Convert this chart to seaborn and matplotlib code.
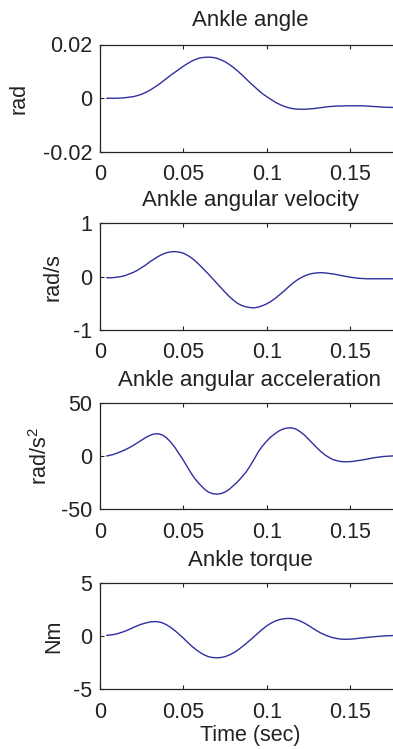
import matplotlib
matplotlib.use("Agg")
import matplotlib.pyplot as plt
import numpy as np
import pandas as pd
import seaborn as sns

# Sample times (s)
time = [0.004, 0.0075, 0.010, 0.0125, 0.015, 0.0175, 0.020, 0.0225, 0.025, 0.0275,
        0.030, 0.0325, 0.035, 0.0375, 0.040, 0.0425, 0.045, 0.0475, 0.050, 0.0525,
        0.055, 0.0575, 0.060, 0.0625, 0.065, 0.0675, 0.070, 0.0725, 0.075, 0.0775,
        0.080, 0.0825, 0.085, 0.0875, 0.090, 0.0925, 0.095, 0.0975, 0.100, 0.1025,
        0.105, 0.1075, 0.110, 0.1125, 0.115, 0.1175, 0.120, 0.1225, 0.125, 0.1275,
        0.130, 0.1325, 0.135, 0.1375, 0.140, 0.1425, 0.145, 0.1475, 0.150, 0.1525,
        0.155, 0.1575, 0.160, 0.1625, 0.165, 0.1675, 0.170, 0.1725, 0.175, 0.1775,
        0.180]

# Ankle angle (rad)
angle = [0.0000, 0.0000, 0.0000, 0.0001, 0.0002, 0.0004, 0.0006, 0.0010, 0.0015, 0.0022,
         0.0030, 0.0040, 0.0050, 0.0062, 0.0074, 0.0086, 0.0097, 0.0108, 0.0119, 0.0129,
         0.0138, 0.0145, 0.0150, 0.0152, 0.0153, 0.0152, 0.0149, 0.0143, 0.0136, 0.0126,
         0.0115, 0.0102, 0.0088, 0.0073, 0.0058, 0.0044, 0.0030, 0.0017, 0.0006, -0.0004,
         -0.0014, -0.0022, -0.0029, -0.0034, -0.0038, -0.0040, -0.0041, -0.0041, -0.0040, -0.0039,
         -0.0037, -0.0035, -0.0033, -0.0031, -0.0030, -0.0029, -0.0029, -0.0028, -0.0028, -0.0028,
         -0.0028, -0.0028, -0.0029, -0.0030, -0.0031, -0.0032, -0.0033, -0.0034, -0.0034, -0.0035,
         -0.0035]

# Ankle angular velocity (rad/s)
velocity = [-0.02, -0.02, -0.01, 0.00, 0.02, 0.05, 0.08, 0.12, 0.17, 0.22,
            0.28, 0.33, 0.38, 0.42, 0.45, 0.465, 0.47, 0.46, 0.44, 0.40,
            0.35, 0.285, 0.21, 0.13, 0.05, -0.035, -0.12, -0.205, -0.29, -0.37,
            -0.44, -0.50, -0.54, -0.565, -0.58, -0.585, -0.57, -0.545, -0.51, -0.465,
            -0.41, -0.345, -0.28, -0.21, -0.14, -0.08, -0.03, 0.01, 0.04, 0.06,
            0.07, 0.075, 0.07, 0.06, 0.05, 0.035, 0.02, 0.005, -0.01, -0.02,
            -0.03, -0.035, -0.04, -0.04, -0.04, -0.04, -0.04, -0.04, -0.04, -0.04,
            -0.04]

# Ankle angular acceleration (rad/s^2)
acceleration = [0.0, 1.2, 2.6, 4.1, 5.8, 7.8, 10.0, 12.5, 15.0, 17.5,
                19.5, 20.8, 21.0, 19.8, 17.0, 13.0, 8.0, 2.0, -4.0, -10.5,
                -17.0, -22.5, -27.0, -31.0, -34.0, -35.5, -36.0, -35.5, -34.0, -31.5,
                -28.0, -24.5, -20.0, -15.5, -9.5, -3.0, 4.0, 9.5, 14.0, 18.0,
                21.0, 23.8, 25.5, 26.5, 26.5, 25.5, 23.0, 20.0, 16.0, 12.0,
                8.0, 4.2, 1.0, -1.5, -3.5, -4.6, -5.3, -5.5, -5.3, -4.9,
                -4.3, -3.7, -3.0, -2.2, -1.5, -1.0, -0.5, -0.2, 0.0, 0.2,
                0.3]

# Ankle torque (Nm)
torque = [0.06, 0.12, 0.20, 0.32, 0.45, 0.62, 0.80, 0.97, 1.12, 1.23,
          1.32, 1.36, 1.34, 1.24, 1.05, 0.80, 0.50, 0.16, -0.20, -0.58,
          -0.95, -1.27, -1.55, -1.78, -1.95, -2.03, -2.06, -2.03, -1.95, -1.80,
          -1.60, -1.35, -1.05, -0.73, -0.40, -0.05, 0.30, 0.64, 0.95, 1.20,
          1.40, 1.54, 1.62, 1.66, 1.65, 1.56, 1.42, 1.23, 1.00, 0.75,
          0.50, 0.28, 0.10, -0.05, -0.17, -0.25, -0.30, -0.31, -0.30, -0.27,
          -0.22, -0.18, -0.14, -0.10, -0.06, -0.03, 0.00, 0.02, 0.04, 0.05,
          0.06]

titles = ["Ankle angle", "Ankle angular velocity",
          "Ankle angular acceleration", "Ankle torque"]
ylabels = ["rad", "rad/s", "rad/s$^{2}$", "Nm"]
ylimits = [(-0.02, 0.02), (-1, 1), (-50, 50), (-5, 5)]
yticklabels = [["-0.02", "0", "0.02"], ["-1", "0", "1"],
               ["-50", "0", "50"], ["-5", "0", "5"]]
xticks = [0, 0.05, 0.1, 0.15]
xticklabels = ["0", "0.05", "0.1", "0.15"]

sns.set_style("ticks")
plt.rcParams["font.family"] = ["Liberation Sans", "DejaVu Sans"]
plt.rcParams["mathtext.fontset"] = "custom"
plt.rcParams["mathtext.rm"] = "Liberation Sans"
plt.rcParams["mathtext.default"] = "regular"
plt.rcParams["axes.unicode_minus"] = False

text_color = "#222222"
line_color = "#2f2f9f"

df = pd.DataFrame({"time": time, "angle": angle, "velocity": velocity,
                   "acceleration": acceleration, "torque": torque})
columns = ["angle", "velocity", "acceleration", "torque"]

fig = plt.figure(figsize=(3.93, 7.49), dpi=100)
W, H = 393.0, 749.0
# (top, bottom) of each panel in pixels
panel_px = [(44.5, 152.0), (223.3, 330.0), (403.0, 509.0), (583.0, 689.0)]
label_x = [-0.235, -0.122, -0.160, -0.118]
title_pad = [13, 12.5, 12.5, 12.5]

for i, col in enumerate(columns):
    top, bottom = panel_px[i]
    ax = fig.add_axes([100 / W, (H - bottom) / H, 300 / W, (bottom - top) / H])
    sns.lineplot(data=df, x="time", y=col, ax=ax, color=line_color, linewidth=1.0)
    ax.set_xlim(0, 0.18)
    ax.set_ylim(*ylimits[i])
    lo, hi = ylimits[i]
    ax.set_yticks([lo, 0, hi])
    ax.set_yticklabels(yticklabels[i])
    ax.set_xticks(xticks)
    ax.set_xticklabels(xticklabels)
    ax.tick_params(direction="in", top=True, right=True, length=3, width=0.8,
                   labelsize=15.5, colors=text_color)
    ax.tick_params(axis="x", pad=9)
    ax.tick_params(axis="y", pad=5.5)
    for s in ax.spines.values():
        s.set_linewidth(0.9)
        s.set_color("#262626")
    ax.set_title(titles[i], fontsize=16, color=text_color, pad=title_pad[i])
    ax.set_ylabel(ylabels[i], fontsize=15.5, color=text_color)
    ax.yaxis.set_label_coords(label_x[i], 0.5)
    if i == 3:
        ax.set_xlabel("Time (sec)", fontsize=15.5, color=text_color, labelpad=2)
    else:
        ax.set_xlabel("")

fig.savefig("out.png", dpi=100, facecolor="white")
